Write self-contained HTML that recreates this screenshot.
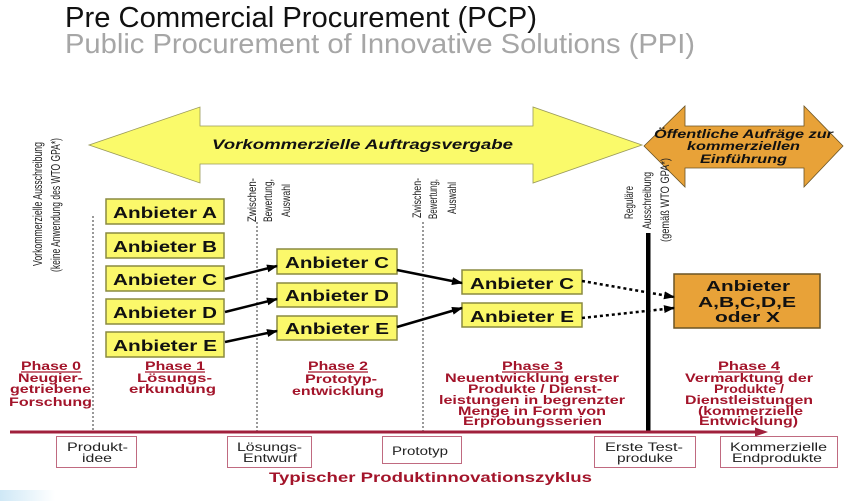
<!DOCTYPE html>
<html><head><meta charset="utf-8"><style>
html,body{margin:0;padding:0;background:#fff;}
svg{display:block;}
text{font-family:"Liberation Sans",Arial,sans-serif;}
</style></head><body>
<svg width="850" height="501" viewBox="0 0 850 501" xmlns="http://www.w3.org/2000/svg">
<defs>
<marker id="ah" markerUnits="userSpaceOnUse" markerWidth="11" markerHeight="8" refX="10" refY="4" orient="auto">
<path d="M0,0 L11,4 L0,8 z" fill="#000"/>
</marker>
<linearGradient id="bl" x1="0" x2="1" y1="0" y2="0"><stop offset="0" stop-color="#cfe8f6"/><stop offset="1" stop-color="#ffffff"/></linearGradient>
</defs>

<!-- titles -->
<text x="65" y="27" font-size="29" fill="#111" textLength="472" lengthAdjust="spacingAndGlyphs">Pre Commercial Procurement (PCP)</text>
<text x="65" y="53" font-size="28" fill="#a6a6a6" textLength="630" lengthAdjust="spacingAndGlyphs">Public Procurement of Innovative Solutions (PPI)</text>

<!-- yellow double arrow -->
<polygon points="89,145 200,107 200,126 533,126 533,107 642,145 533,183 533,164 200,164 200,183" fill="#fafa6a" stroke="#9a9a5a" stroke-width="0.8"/>
<text x="212" y="149" font-size="13.5" font-weight="bold" font-style="italic" fill="#111" textLength="301" lengthAdjust="spacingAndGlyphs">Vorkommerzielle Auftragsvergabe</text>

<!-- orange double arrow -->
<polygon points="644,146 685,106 685,126 804,126 804,106 843,146 804,187 804,168 685,168 685,187" fill="#e8a238" stroke="#6b5424" stroke-width="0.8"/>
<text x="654" y="138" font-size="12" font-weight="bold" font-style="italic" fill="#111" textLength="179" lengthAdjust="spacingAndGlyphs">Öffentliche Aufräge zur</text>
<text x="687" y="150" font-size="12" font-weight="bold" font-style="italic" fill="#111" textLength="113" lengthAdjust="spacingAndGlyphs">kommerziellen</text>
<text x="700" y="163" font-size="12" font-weight="bold" font-style="italic" fill="#111" textLength="87" lengthAdjust="spacingAndGlyphs">Einführung</text>

<!-- rotated texts -->
<g font-size="12.5" fill="#222">
<text transform="translate(42,204) rotate(-90)" x="-62" y="0" textLength="124" lengthAdjust="spacingAndGlyphs">Vorkommerzielle Ausschreibung</text>
<text transform="translate(60,205) rotate(-90)" x="-67" y="0" textLength="134" lengthAdjust="spacingAndGlyphs">(keine Anwendung des WTO GPA*)</text>
</g>
<g font-size="12" fill="#222">
<text transform="translate(256,200) rotate(-90)" x="-22" y="0" textLength="44" lengthAdjust="spacingAndGlyphs">Zwischen-</text>
<text transform="translate(272,201) rotate(-90)" x="-21" y="0" textLength="43" lengthAdjust="spacingAndGlyphs">Bewertung,</text>
<text transform="translate(290,201) rotate(-90)" x="-16" y="0" textLength="33" lengthAdjust="spacingAndGlyphs">Auswahl</text>

<text transform="translate(421,198) rotate(-90)" x="-20" y="0" textLength="40" lengthAdjust="spacingAndGlyphs">Zwischen-</text>
<text transform="translate(437,199) rotate(-90)" x="-20" y="0" textLength="40" lengthAdjust="spacingAndGlyphs">Bewertung,</text>
<text transform="translate(456,198) rotate(-90)" x="-16" y="0" textLength="32" lengthAdjust="spacingAndGlyphs">Auswahl</text>

<text transform="translate(633,203) rotate(-90)" x="-16" y="0" textLength="33" lengthAdjust="spacingAndGlyphs">Reguläre</text>
<text transform="translate(651,201) rotate(-90)" x="-28" y="0" textLength="57" lengthAdjust="spacingAndGlyphs">Ausschreibung</text>
<text transform="translate(669,200) rotate(-90)" x="-42" y="0" textLength="84" lengthAdjust="spacingAndGlyphs">(gemäß WTO GPA*)</text>
</g>

<!-- dotted vertical lines -->
<g stroke="#333" stroke-width="1" stroke-dasharray="2,2">
<line x1="93" y1="216" x2="93" y2="432"/>
<line x1="257" y1="222" x2="257" y2="432"/>
<line x1="423" y1="222" x2="423" y2="432"/>
</g>

<!-- black vertical line -->
<rect x="646" y="233" width="4.5" height="200" fill="#000"/>

<!-- yellow boxes -->
<g fill="#fbf86a" stroke="#8a8a40" stroke-width="1.5">
<rect x="106" y="199" width="118" height="25"/>
<rect x="106" y="233" width="118" height="25"/>
<rect x="106" y="266" width="118" height="25"/>
<rect x="106" y="299" width="118" height="25"/>
<rect x="106" y="332" width="118" height="25"/>
<rect x="277" y="249" width="120" height="25"/>
<rect x="277" y="283" width="120" height="24"/>
<rect x="277" y="316" width="120" height="24"/>
<rect x="462" y="270" width="120" height="24"/>
<rect x="462" y="303" width="120" height="24"/>
</g>
<g font-size="15.5" font-weight="bold" fill="#111">
<text x="113" y="218" textLength="104" lengthAdjust="spacingAndGlyphs">Anbieter A</text>
<text x="113" y="252" textLength="104" lengthAdjust="spacingAndGlyphs">Anbieter B</text>
<text x="113" y="285" textLength="104" lengthAdjust="spacingAndGlyphs">Anbieter C</text>
<text x="113" y="318" textLength="104" lengthAdjust="spacingAndGlyphs">Anbieter D</text>
<text x="113" y="351" textLength="104" lengthAdjust="spacingAndGlyphs">Anbieter E</text>
<text x="285" y="268" textLength="104" lengthAdjust="spacingAndGlyphs">Anbieter C</text>
<text x="285" y="301" textLength="104" lengthAdjust="spacingAndGlyphs">Anbieter D</text>
<text x="285" y="334" textLength="104" lengthAdjust="spacingAndGlyphs">Anbieter E</text>
<text x="470" y="289" textLength="104" lengthAdjust="spacingAndGlyphs">Anbieter C</text>
<text x="470" y="322" textLength="104" lengthAdjust="spacingAndGlyphs">Anbieter E</text>
</g>

<!-- orange box -->
<rect x="674" y="274" width="146" height="54" fill="#e8a238" stroke="#6b5424" stroke-width="1.5"/>
<g font-size="15" font-weight="bold" fill="#111">
<text x="706" y="291" textLength="84" lengthAdjust="spacingAndGlyphs">Anbieter</text>
<text x="698" y="307" textLength="98" lengthAdjust="spacingAndGlyphs">A,B,C,D,E</text>
<text x="715" y="322" textLength="65" lengthAdjust="spacingAndGlyphs">oder X</text>
</g>

<!-- arrows -->
<g stroke="#000" stroke-width="2.5" fill="none">
<line x1="225" y1="279" x2="277" y2="266" marker-end="url(#ah)"/>
<line x1="225" y1="312" x2="277" y2="299" marker-end="url(#ah)"/>
<line x1="225" y1="342" x2="277" y2="331" marker-end="url(#ah)"/>
<line x1="397" y1="270" x2="462" y2="283" marker-end="url(#ah)"/>
<line x1="397" y1="327" x2="462" y2="308" marker-end="url(#ah)"/>
<line x1="582" y1="281" x2="674" y2="297" stroke-dasharray="3,3" marker-end="url(#ah)"/>
<line x1="582" y1="318" x2="674" y2="308" stroke-dasharray="3,3" marker-end="url(#ah)"/>
</g>

<!-- phase texts -->
<g font-weight="bold" font-size="12" fill="#a3142a">
<text x="21" y="370" textLength="60" lengthAdjust="spacingAndGlyphs">Phase 0</text>
<line x1="21" y1="372" x2="81" y2="372" stroke="#a3142a" stroke-width="1.3"/>
<text x="18" y="382" textLength="65" lengthAdjust="spacingAndGlyphs">Neugier-</text>
<text x="10" y="393" textLength="81" lengthAdjust="spacingAndGlyphs">getriebene</text>
<text x="9" y="406" textLength="83" lengthAdjust="spacingAndGlyphs">Forschung</text>

<text x="145" y="370" textLength="60" lengthAdjust="spacingAndGlyphs">Phase 1</text>
<line x1="145" y1="372" x2="205" y2="372" stroke="#a3142a" stroke-width="1.3"/>
<text x="137" y="382" textLength="75" lengthAdjust="spacingAndGlyphs">Lösungs-</text>
<text x="129" y="393" textLength="87" lengthAdjust="spacingAndGlyphs">erkundung</text>

<text x="308" y="370" textLength="60" lengthAdjust="spacingAndGlyphs">Phase 2</text>
<line x1="308" y1="372" x2="368" y2="372" stroke="#a3142a" stroke-width="1.3"/>
<text x="305" y="383" textLength="72" lengthAdjust="spacingAndGlyphs">Prototyp-</text>
<text x="292" y="395" textLength="92" lengthAdjust="spacingAndGlyphs">entwicklung</text>

<text x="502" y="370" textLength="61" lengthAdjust="spacingAndGlyphs">Phase 3</text>
<line x1="502" y1="372" x2="563" y2="372" stroke="#a3142a" stroke-width="1.3"/>
<text x="445" y="382" textLength="174" lengthAdjust="spacingAndGlyphs">Neuentwicklung erster</text>
<text x="468" y="393" textLength="134" lengthAdjust="spacingAndGlyphs">Produkte / Dienst-</text>
<text x="439" y="404" textLength="186" lengthAdjust="spacingAndGlyphs">leistungen in begrenzter</text>
<text x="458" y="415" textLength="148" lengthAdjust="spacingAndGlyphs">Menge in Form von</text>
<text x="463" y="425" textLength="139" lengthAdjust="spacingAndGlyphs">Erprobungsserien</text>

<text x="718" y="370" textLength="62" lengthAdjust="spacingAndGlyphs">Phase 4</text>
<line x1="718" y1="372" x2="780" y2="372" stroke="#a3142a" stroke-width="1.3"/>
<text x="685" y="382" textLength="128" lengthAdjust="spacingAndGlyphs">Vermarktung der</text>
<text x="714" y="393" textLength="70" lengthAdjust="spacingAndGlyphs">Produkte /</text>
<text x="685" y="404" textLength="128" lengthAdjust="spacingAndGlyphs">Dienstleistungen</text>
<text x="698" y="415" textLength="105" lengthAdjust="spacingAndGlyphs">(kommerzielle</text>
<text x="699" y="425" textLength="99" lengthAdjust="spacingAndGlyphs">Entwicklung)</text>
</g>

<!-- timeline -->
<line x1="10" y1="432" x2="757" y2="432" stroke="#a0203c" stroke-width="3"/>
<polygon points="755,427.5 768,432 755,436.5" fill="#a0203c"/>

<!-- bottom boxes -->
<g fill="#fff" stroke="#c06a80" stroke-width="1">
<rect x="56.5" y="436.5" width="80" height="31"/>
<rect x="227.5" y="436.5" width="84" height="31"/>
<rect x="382.5" y="436.5" width="79" height="27"/>
<rect x="594.5" y="436.5" width="101" height="31"/>
<rect x="720.5" y="436.5" width="117" height="31"/>
</g>
<g font-size="12" fill="#222">
<text x="67" y="451" textLength="61" lengthAdjust="spacingAndGlyphs">Produkt-</text>
<text x="82" y="462" textLength="30" lengthAdjust="spacingAndGlyphs">idee</text>
<text x="237" y="451" textLength="65" lengthAdjust="spacingAndGlyphs">Lösungs-</text>
<text x="243" y="462" textLength="54" lengthAdjust="spacingAndGlyphs">Entwurf</text>
<text x="392" y="455" textLength="56" lengthAdjust="spacingAndGlyphs">Prototyp</text>
<text x="605" y="451" textLength="78" lengthAdjust="spacingAndGlyphs">Erste Test-</text>
<text x="617" y="462" textLength="56" lengthAdjust="spacingAndGlyphs">produke</text>
<text x="730" y="451" textLength="97" lengthAdjust="spacingAndGlyphs">Kommerzielle</text>
<text x="732" y="462" textLength="90" lengthAdjust="spacingAndGlyphs">Endprodukte</text>
</g>
<text x="269" y="482" font-size="14" font-weight="bold" fill="#a3142a" textLength="323" lengthAdjust="spacingAndGlyphs">Typischer Produktinnovationszyklus</text>

<!-- bottom-left smear -->
<rect x="0" y="490" width="55" height="11" fill="url(#bl)"/>
</svg>
</body></html>
